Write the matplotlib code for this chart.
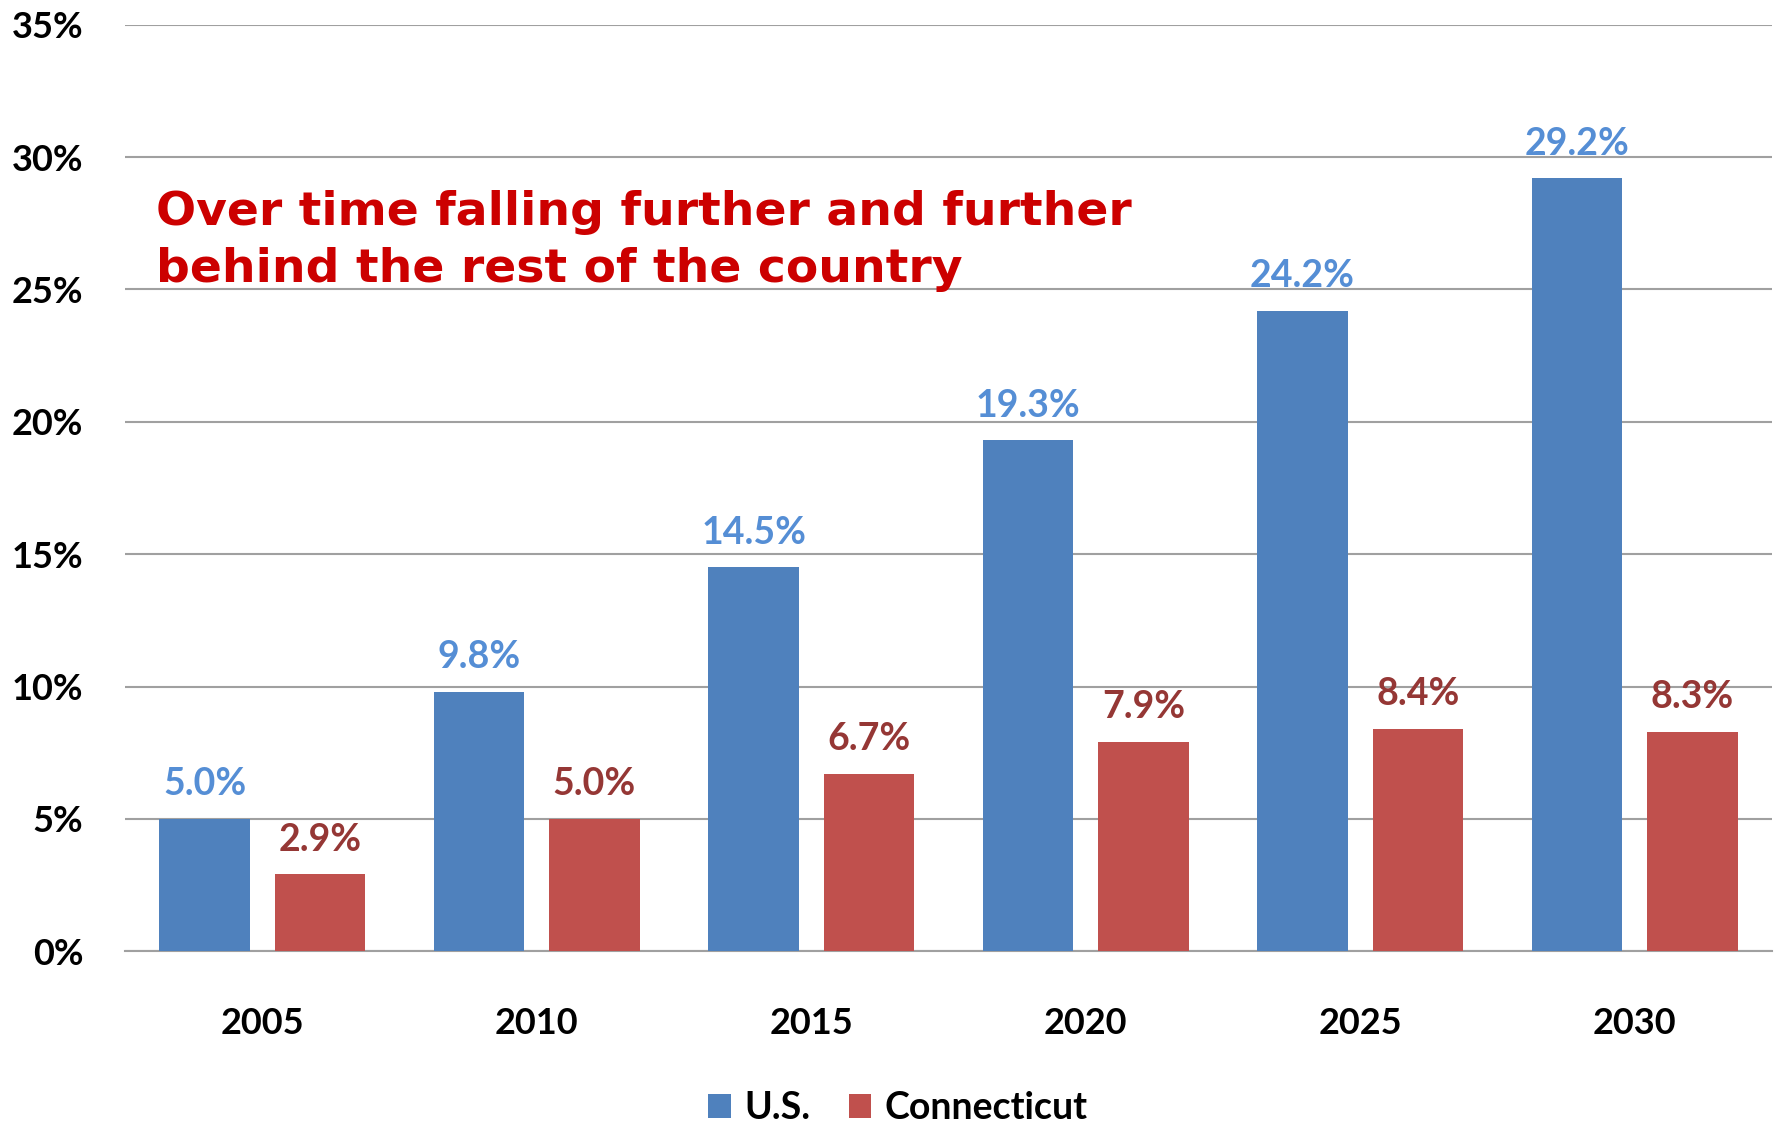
import matplotlib
matplotlib.use('Agg')
import matplotlib.pyplot as plt
import numpy as np

years = ['2005', '2010', '2015', '2020', '2025', '2030']
us = [5.0, 9.8, 14.5, 19.3, 24.2, 29.2]
ct = [2.9, 5.0, 6.7, 7.9, 8.4, 8.3]
yticks = [0, 5, 10, 15, 20, 25, 30, 35]

blue = '#4F81BD'
red = '#C0504D'
blue_txt = '#558ED5'
red_txt = '#953735'
num_font = 'Lato'

fig = plt.figure(figsize=(17.79, 11.27), dpi=100)
ax = fig.add_axes([0.0703, 0.156, 0.9257, 0.822])

x = np.arange(len(years))
w = 0.33
off = 0.21
ax.bar(x - off, us, w, color=blue, label='U.S.', zorder=3)
ax.bar(x + off, ct, w, color=red, label='Connecticut', zorder=3)

# value labels above each bar
for xi, v in zip(x, us):
    ax.annotate(f'{v:.1f}%', (xi - off, v), xytext=(0, 17), textcoords='offset points',
                ha='center', va='baseline', fontsize=27, fontweight='bold',
                color=blue_txt, family=num_font)
for xi, v in zip(x, ct):
    ax.annotate(f'{v:.1f}%', (xi + off, v), xytext=(0, 17), textcoords='offset points',
                ha='center', va='baseline', fontsize=27, fontweight='bold',
                color=red_txt, family=num_font)

ax.set_xlim(-0.5, len(years) - 0.5)
ax.set_ylim(0, 35)
ax.set_yticks(yticks)
ax.set_yticklabels([f'{t}%' for t in yticks])
ax.set_xticks(x)
ax.set_xticklabels(years)
ax.yaxis.grid(True, color='#A0A0A0', linewidth=1.5, zorder=0)
ax.set_axisbelow(True)
for s in ['top', 'right', 'left']:
    ax.spines[s].set_visible(False)
ax.spines['bottom'].set_color('#A0A0A0')
ax.spines['bottom'].set_linewidth(1.5)
ax.tick_params(axis='both', length=0)
ax.tick_params(axis='y', pad=30)
ax.tick_params(axis='x', pad=40)
for lbl in ax.get_xticklabels() + ax.get_yticklabels():
    lbl.set_fontsize(26)
    lbl.set_fontweight('bold')
    lbl.set_family(num_font)

ax.text(0.019, 0.767, 'Over time falling further and further\nbehind the rest of the country',
        transform=ax.transAxes, fontsize=34, fontweight='bold', color='#CC0000',
        family='DejaVu Sans', va='center', ha='left', linespacing=1.34)

fig.legend(loc='center', bbox_to_anchor=(898 / 1779, 1 - 1108 / 1127), ncol=2,
           frameon=False, handlelength=0.6, handleheight=0.6, handletextpad=0.36,
           columnspacing=1.03, prop={'family': num_font, 'weight': 'bold', 'size': 27})

fig.savefig('out.png', dpi=100)
